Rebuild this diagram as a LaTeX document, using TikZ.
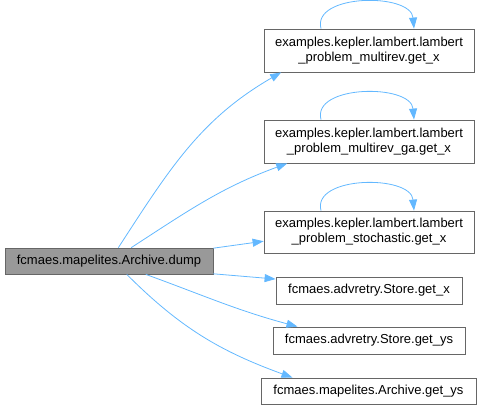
\documentclass[tikz,border=0pt]{standalone}
\usepackage{fontspec}
\setmainfont{Liberation Sans}
\usetikzlibrary{positioning,arrows.meta,calc}
\definecolor{edgeblue}{HTML}{63B8FF}
\definecolor{boxgray}{HTML}{666666}
\definecolor{dumpgray}{HTML}{999999}

\begin{document}
\begin{tikzpicture}[x=1pt,y=-1pt,
  fnode/.style={rectangle,draw=boxgray,line width=0.8pt,fill=#1,inner sep=0pt,align=center,font=\fontsize{13}{15}\selectfont,minimum height=26pt},
  fnode/.default=white,
  calls/.style={-{Triangle[length=11pt,width=8pt]},edgeblue,line width=0.8pt},
  selfcall/.style={calls,looseness=1},
]
\useasboundingbox (0,0) rectangle (482,411);

% ==== CALLER (left) ====
\node[fnode=dumpgray,minimum width=208pt] (dump) at (109,261) {fcmaes.mapelites.Archive.dump};

% ==== CALLEES (right column) ====
\node[fnode,minimum width=210pt,minimum height=43pt] (lmr) at (369,50.5) {examples.kepler.lambert.lambert\\\_problem\_multirev.get\_x};
\node[fnode,minimum width=210pt,minimum height=43pt] (lmga) at (369,141.5) {examples.kepler.lambert.lambert\\\_problem\_multirev\_ga.get\_x};
\node[fnode,minimum width=210pt,minimum height=42pt] (lsto) at (369,232) {examples.kepler.lambert.lambert\\\_problem\_stochastic.get\_x};
\node[fnode,minimum width=186pt,minimum height=27pt] (sgx) at (369,290.5) {fcmaes.advretry.Store.get\_x};
\node[fnode,minimum width=192pt,minimum height=27pt] (sgys) at (369,340.5) {fcmaes.advretry.Store.get\_ys};
\node[fnode,minimum width=215pt] (agys) at (368.5,391) {fcmaes.mapelites.Archive.get\_ys};

% Calls from dump
\draw[calls] (dump.55) to[out=57,in=210] (lmr.194);
\draw[calls] (dump.31) to[out=33,in=200] (lmga.195);
\draw[calls] (dump.7) -- (lsto.185);
\draw[calls] (dump.-7) -- (sgx.173);
\draw[calls] (dump.-20) to[out=-20,in=165] (sgys.169);
\draw[calls] (dump.-37) to[out=-45,in=160] (agys.170);

% Self calls
\draw[selfcall] ($(lmr.north)+(-48,0)$) to[out=105,in=95] ($(lmr.north)+(45,0)$);
\draw[selfcall] ($(lmga.north)+(-48,0)$) to[out=105,in=95] ($(lmga.north)+(45,0)$);
\draw[selfcall] ($(lsto.north)+(-48,0)$) to[out=105,in=95] ($(lsto.north)+(45,0)$);

\end{tikzpicture}
\end{document}
